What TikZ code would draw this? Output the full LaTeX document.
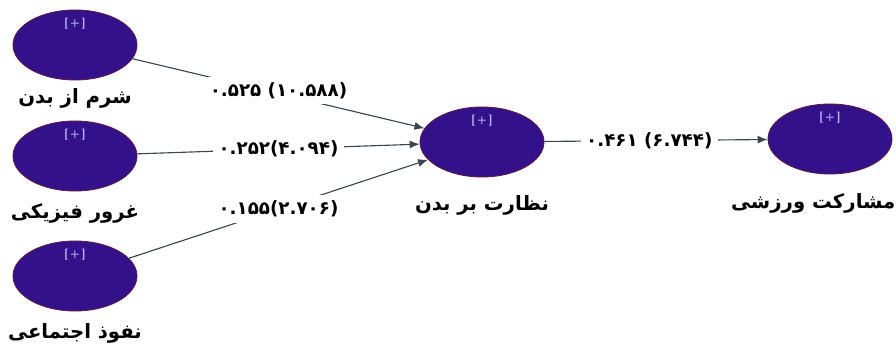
\documentclass[tikz,border=0pt]{standalone}
\usepackage{fontspec}
\newfontfamily\arabicfont[Script=Arabic]{DejaVu Sans}
\TeXXeTstate=1
\usetikzlibrary{shapes.geometric}
\usetikzlibrary{arrows.meta}

\definecolor{latentfill}{HTML}{33118A}
\definecolor{latentrim}{HTML}{5E1A40}
\definecolor{plusmark}{HTML}{B8B0F0}
\definecolor{pathgray}{HTML}{3E454C}

\begin{document}
\begin{tikzpicture}[x=0.025cm, y=-0.025cm,
	latent/.style={ellipse, draw=latentrim, fill=latentfill, line width=0.6pt,
		minimum width=3.1cm, minimum height=1.75cm,
		label={[text=plusmark, font=\sffamily\bfseries\footnotesize, anchor=north, inner sep=0pt, yshift=-0.2cm]north:{[\,+\,]}}},
	latentname/.style={font=\arabicfont\bfseries\fontsize{14}{16}\selectfont, label distance=5pt},
	coef/.style={fill=white, inner sep=4pt, font=\arabicfont\bfseries\fontsize{13}{15}\selectfont},
	relation/.style={draw=pathgray, line width=0.8pt, -{Latex[length=2.5mm, width=2mm]}}
	]
	
	\useasboundingbox (0,0) rectangle (896,346);
	
	% exogenous constructs
	\node[latent, label={[latentname, label distance=2pt]below:{\beginR شرم از بدن\endR}}] (shame) at (75,45) {};
	\node[latent, label={[latentname]below:{\beginR غرور فیزیکی\endR}}] (pride) at (75,156) {};
	\node[latent, label={[latentname]below:{\beginR نفوذ اجتماعی\endR}}] (social) at (75,276) {};
	
	% mediator and outcome
	\node[latent, label={[latentname, label distance=9pt]below:{\beginR نظارت بر بدن\endR}}] (monit) at (482,142) {};
	\node[latent, label={[latentname, label distance=10pt, xshift=-0.42cm]below:{\beginR مشارکت ورزشی\endR}}] (sport) at (830,139) {};
	
	% paths with coefficients (t values)
	\draw[relation] (shame) -- node[coef, yshift=2pt] {\beginR\beginL ۰.۵۲۵ (۱۰.۵۸۸)\endL\endR} (monit);
	\draw[relation] (pride) -- node[coef] {\beginR\beginL ۰.۲۵۲\kern0pt(۴.۰۹۴)\endL\endR} (monit);
	\draw[relation] (social) -- node[coef] {\beginR\beginL ۰.۱۵۵\kern0pt(۲.۷۰۶)\endL\endR} (monit);
	\draw[relation] (monit) -- node[coef, pos=0.47] {\beginR\beginL ۰.۴۶۱ (۶.۷۴۴)\endL\endR} (sport);
	
\end{tikzpicture}
\end{document}
